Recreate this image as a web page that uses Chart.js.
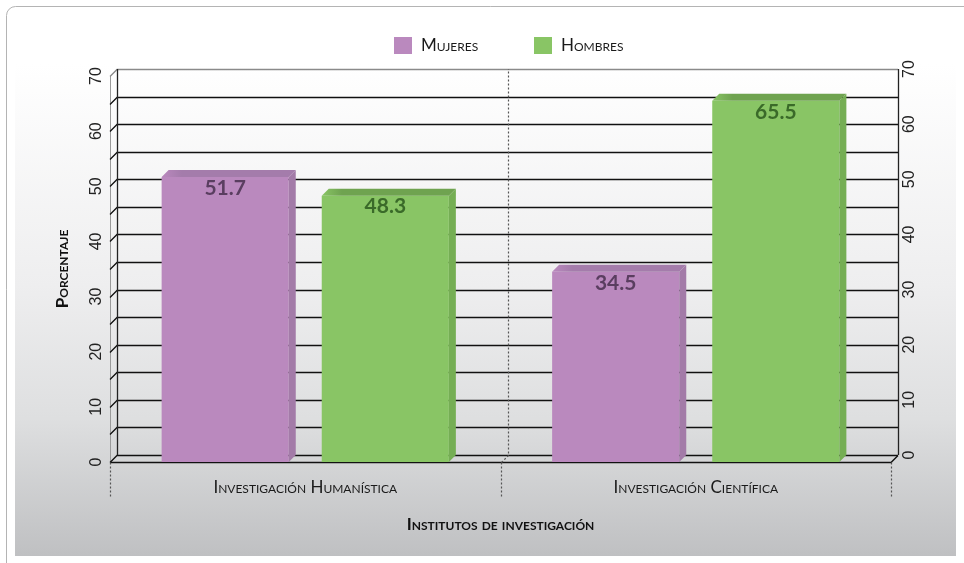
<!DOCTYPE html>
<html><head><meta charset="utf-8">
<script src="https://cdn.jsdelivr.net/npm/chart.js@4/dist/chart.umd.min.js"></script>
<style>html,body{margin:0;padding:0;background:#fff}#wrap{width:964px;height:563px;position:relative}</style>
</head><body><div id="wrap"><canvas id="c"></canvas></div>
<script>
const categories = ['Investigación Humanística', 'Investigación Científica'];
const seriesNames = ['Mujeres', 'Hombres'];
const mujeres = [51.7, 34.5];
const hombres = [48.3, 65.5];
const yTicks = [0, 10, 20, 30, 40, 50, 60, 70];
const gridValues = [0, 5, 10, 15, 20, 25, 30, 35, 40, 45, 50, 55, 60, 65, 70];
const yTitle = 'Porcentaje';
const xTitle = 'Institutos de investigación';

const frontColors = ['#ba89be', '#89c565'];
const sideColors = ['#a37ba8', '#75ae54'];
const topColors = ['#a47cab', '#6fa350'];
const labelColors = ['#5a3e60', '#3a6a29'];
const D = 7;
const SANS = 'Lato, "Open Sans", sans-serif';
const NUMF = '"Liberation Sans Narrow", "Liberation Sans", sans-serif';

const deco = {
  id: 'deco',
  beforeDraw(chart) {
    const ctx = chart.ctx;
    ctx.save();
    ctx.fillStyle = '#ffffff';
    ctx.fillRect(0, 0, chart.width, chart.height);
    const g = ctx.createLinearGradient(0, 64, 0, 556);
    g.addColorStop(0, '#ffffff');
    g.addColorStop(0.45, '#eeeeef');
    g.addColorStop(0.72, '#dedfe0');
    g.addColorStop(1, '#bfc0c2');
    ctx.fillStyle = g;
    ctx.fillRect(15, 64, 941, 492);
    ctx.strokeStyle = '#b4b4b4';
    ctx.lineWidth = 1;
    ctx.beginPath();
    ctx.roundRect(6.5, 6.5, 1000, 620, 9);
    ctx.stroke();
    ctx.restore();
  },
  beforeDatasetsDraw(chart) {
    const {ctx, chartArea: a, scales: {x, y}} = chart;
    const y0 = y.getPixelForValue(0), yTop = y.getPixelForValue(70);
    ctx.save();
    ctx.strokeStyle = '#9a9a9a'; ctx.lineWidth = 1;
    ctx.beginPath(); ctx.moveTo(a.left + 0.5, yTop); ctx.lineTo(a.left + 0.5, y0); ctx.stroke();
    gridValues.forEach(v => {
      const py = Math.round(y.getPixelForValue(v)) + 0.5;
      ctx.strokeStyle = v === 70 ? '#8a8a8a' : '#111';
      ctx.lineWidth = 1.3;
      ctx.beginPath();
      ctx.moveTo(a.left, py); ctx.lineTo(a.left + D, py - D); ctx.lineTo(a.right + D, py - D);
      ctx.stroke();
    });
    ctx.strokeStyle = '#222'; ctx.lineWidth = 1.3;
    ctx.beginPath(); ctx.moveTo(a.left + D + 0.5, yTop - D); ctx.lineTo(a.left + D + 0.5, y0 - D); ctx.stroke();
    ctx.beginPath(); ctx.moveTo(a.right + D + 0.5, yTop - D); ctx.lineTo(a.right + D + 0.5, y0 - D); ctx.stroke();
    const fy = Math.round(y0) + 0.5;
    ctx.strokeStyle = '#111'; ctx.lineWidth = 1.4;
    ctx.beginPath(); ctx.moveTo(a.left, fy); ctx.lineTo(a.right, fy); ctx.lineTo(a.right + D, fy - D); ctx.stroke();
    ctx.strokeStyle = '#555'; ctx.lineWidth = 1.2; ctx.setLineDash([2, 2]);
    const seps = [a.left, x.getPixelForValue(0.5), a.right];
    seps.forEach((sx, i) => {
      const px = Math.round(sx) + 0.5;
      ctx.beginPath(); ctx.moveTo(px, fy); ctx.lineTo(px, fy + 35); ctx.stroke();
      if (i === 1) {
        ctx.beginPath(); ctx.moveTo(px, fy); ctx.lineTo(px + D, fy - D); ctx.lineTo(px + D, yTop - D); ctx.stroke();
      }
    });
    ctx.setLineDash([]);
    ctx.restore();
  },
  afterDatasetsDraw(chart) {
    const {ctx, scales: {y}} = chart;
    const y0 = y.getPixelForValue(0);
    ctx.save();
    chart.data.datasets.forEach((ds, di) => {
      const meta = chart.getDatasetMeta(di);
      meta.data.forEach((bar, i) => {
        const l = bar.x - bar.width / 2, r = bar.x + bar.width / 2, t = bar.y;
        ctx.fillStyle = sideColors[di];
        ctx.beginPath();
        ctx.moveTo(r, t); ctx.lineTo(r + D, t - D); ctx.lineTo(r + D, y0 - D); ctx.lineTo(r, y0);
        ctx.closePath(); ctx.fill();
        const tg = ctx.createLinearGradient(l, 0, r + D, 0);
        tg.addColorStop(0, frontColors[di]);
        tg.addColorStop(0.15, topColors[di]);
        tg.addColorStop(1, topColors[di]);
        ctx.fillStyle = tg;
        ctx.beginPath();
        ctx.moveTo(l, t); ctx.lineTo(l + D, t - D); ctx.lineTo(r + D, t - D); ctx.lineTo(r, t);
        ctx.closePath(); ctx.fill();
        ctx.fillStyle = labelColors[di];
        ctx.font = 'bold 21px ' + SANS;
        ctx.textAlign = 'center'; ctx.textBaseline = 'middle';
        ctx.fillText(ds.data[i].toFixed(1), bar.x, t + 11);
      });
    });
    ctx.fillStyle = '#222';
    ctx.font = '16px ' + NUMF;
    ctx.textAlign = 'center'; ctx.textBaseline = 'middle';
    yTicks.forEach(v => {
      const py = y.getPixelForValue(v) - D;
      ctx.save(); ctx.translate(910, py); ctx.rotate(-Math.PI / 2);
      ctx.fillText(String(v), 0, 0); ctx.restore();
    });
    ctx.font = 'small-caps 17px ' + SANS;
    ctx.textAlign = 'left'; ctx.textBaseline = 'middle';
    const lx = [394, 534];
    chart.data.datasets.forEach((ds, di) => {
      ctx.fillStyle = ds.backgroundColor;
      ctx.fillRect(lx[di], 37, 18, 17);
      ctx.fillStyle = '#1a1a1a';
      ctx.fillText(ds.label, lx[di] + 27, 46);
    });
    ctx.restore();
  }
};

new Chart(document.getElementById('c'), {
  type: 'bar',
  data: {
    labels: categories,
    datasets: [
      {label: seriesNames[0], data: mujeres, backgroundColor: frontColors[0]},
      {label: seriesNames[1], data: hombres, backgroundColor: frontColors[1]}
    ]
  },
  options: {
    responsive: true,
    maintainAspectRatio: false,
    animation: false,
    devicePixelRatio: 1,
    categoryPercentage: 0.82,
    barPercentage: 0.794,
    layout: {padding: {top: 76, right: 73, left: 0, bottom: 0}},
    plugins: {legend: {display: false}, tooltip: {enabled: false}},
    scales: {
      x: {
        grid: {display: false, drawTicks: false},
        border: {display: false},
        ticks: {padding: 15, color: '#1a1a1a', font: {family: SANS, size: 17, weight: 'small-caps'}},
        title: {display: true, text: xTitle, color: '#111', padding: {top: 4, bottom: 28},
                font: {family: SANS, size: 17, weight: 'small-caps bold'}},
        afterFit(s) { s.height = 101; }
      },
      y: {
        min: 0, max: 70,
        grid: {display: false, drawTicks: false},
        border: {display: false},
        ticks: {stepSize: 10, minRotation: 90, maxRotation: 90, crossAlign: 'center', padding: 5,
                color: '#222', font: {family: NUMF, size: 16}},
        title: {display: true, text: yTitle, color: '#111', padding: {top: 52, bottom: 0},
                font: {family: SANS, size: 17, weight: 'small-caps bold'}},
        afterFit(s) { s.width = 110; }
      }
    }
  },
  plugins: [deco]
});
</script>
</body></html>
